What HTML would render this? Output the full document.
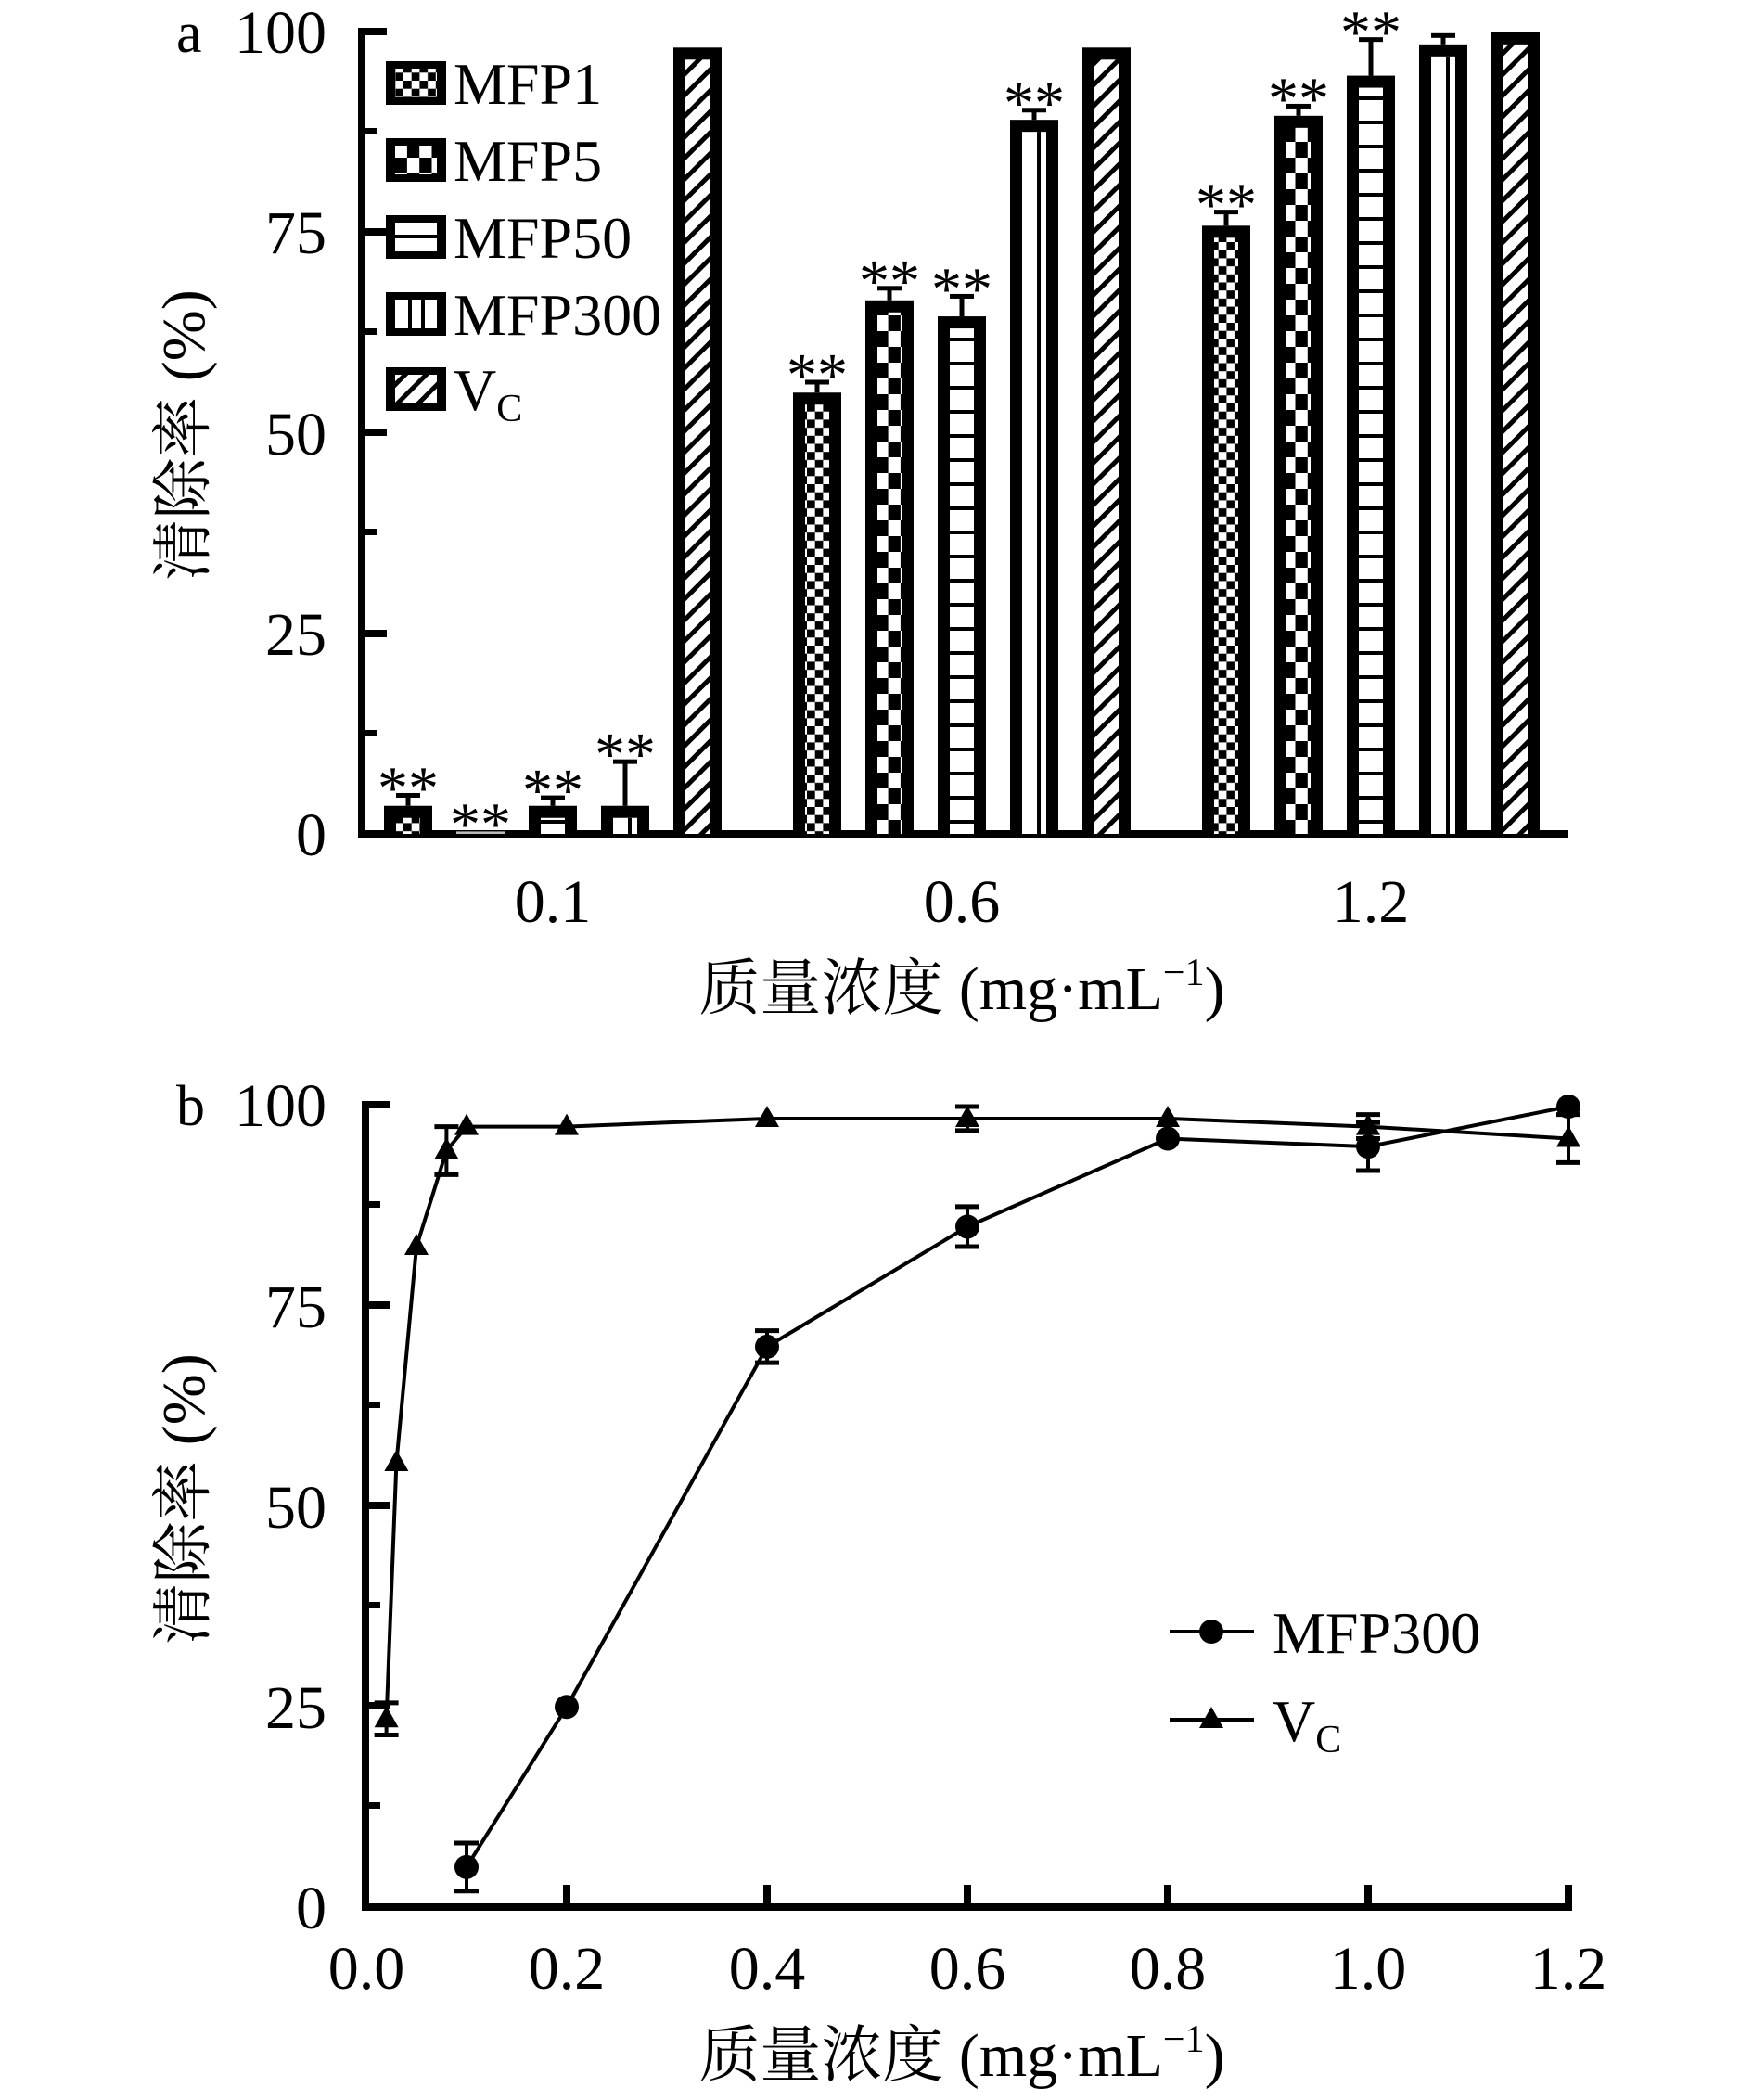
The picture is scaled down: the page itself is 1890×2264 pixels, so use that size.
<!DOCTYPE html>
<html><head><meta charset="utf-8"><style>
html,body{margin:0;padding:0;background:#fff;}
svg{display:block;}
text{font-family:"Liberation Serif","Noto Serif CJK SC","Noto Sans CJK SC",serif;fill:#000;}
</style></head><body>
<svg width="1890" height="2264" viewBox="0 0 1890 2264" xmlns="http://www.w3.org/2000/svg">
<defs>
<pattern id="p1" width="17.4" height="17.4" patternUnits="userSpaceOnUse">
<rect width="17.4" height="17.4" fill="#fff"/><rect width="8.7" height="8.7" fill="#000"/><rect x="8.7" y="8.7" width="8.7" height="8.7" fill="#000"/></pattern>
<pattern id="p5" width="26.6" height="34" patternUnits="userSpaceOnUse">
<rect width="26.6" height="34" fill="#fff"/><rect width="13.3" height="17" fill="#000"/><rect x="13.3" y="17" width="13.3" height="17" fill="#000"/></pattern>
<pattern id="p50" width="26" height="26" patternUnits="userSpaceOnUse">
<rect width="26" height="26" fill="#fff"/><rect y="0" width="26" height="4" fill="#000"/></pattern>
<pattern id="pv" width="16" height="16" patternUnits="userSpaceOnUse" patternTransform="rotate(-45)">
<rect width="16" height="16" fill="#fff"/><rect width="16" height="5" fill="#000"/></pattern>
</defs>

<!-- ===== Panel a ===== -->
<text x="190" y="56" font-size="62">a</text>
<g font-size="66" text-anchor="end">
<text x="352" y="922">0</text><text x="352" y="706">25</text><text x="352" y="490">50</text><text x="352" y="273">75</text><text x="352" y="57">100</text>
</g>
<rect x="386" y="30" width="8" height="873" fill="#000"/>
<rect x="386" y="895" width="1305" height="8" fill="#000"/>
<g fill="#000">
<rect x="394" y="30" width="23" height="8"/><rect x="394" y="246" width="23" height="8"/><rect x="394" y="462" width="23" height="8"/><rect x="394" y="679" width="23" height="8"/>
<rect x="394" y="138" width="12" height="7"/><rect x="394" y="354" width="12" height="7"/><rect x="394" y="570" width="12" height="7"/><rect x="394" y="787" width="12" height="7"/>
</g>

<!-- legend -->
<g>
<rect x="416" y="66" width="65" height="47" fill="#000"/><rect x="426" y="74" width="45" height="31" fill="url(#p1)"/>
<rect x="416" y="149" width="65" height="47" fill="#000"/><rect x="426" y="157" width="45" height="31" fill="url(#p5)"/>
<rect x="416" y="232" width="65" height="47" fill="#000"/><rect x="426" y="240" width="45" height="31" fill="#fff"/><rect x="426" y="253" width="45" height="4" fill="#000"/>
<rect x="416" y="315" width="65" height="47" fill="#000"/><rect x="426" y="323" width="45" height="31" fill="#fff"/><rect x="440" y="323" width="4" height="31" fill="#000"/><rect x="454" y="323" width="4" height="31" fill="#000"/>
<rect x="416" y="396" width="65" height="47" fill="#000"/><rect x="426" y="404" width="45" height="31" fill="url(#pv)"/>
</g>
<g font-size="64">
<text x="489" y="112">MFP1</text><text x="489" y="195">MFP5</text><text x="489" y="278">MFP50</text><text x="489" y="361">MFP300</text>
<text x="489" y="442">V<tspan font-size="42" dy="12">C</tspan></text>
</g>

<g id="bars"></g>
<script>
(function(){
var ns="http://www.w3.org/2000/svg",g=document.getElementById("bars");
function Y(v){return 899-8.65*v;}
function el(t,a){var e=document.createElementNS(ns,t);for(var k in a)e.setAttribute(k,a[k]);g.appendChild(e);return e;}
var centers=[[440,518,596,674,752],[881,959,1037,1115,1193],[1322,1400,1478,1556,1634]];
var vals=[[3.5,0.3,3.5,3.5,98],[55,66.5,64.5,89,98],[75.8,89.5,94.5,98.4,99.9]];
var errs=[[4.8,null,4.5,9,null],[56.3,68,67,90.2,null],[77.5,90.7,99,99.5,null]];
var stars=[[1,1,1,1,0],[1,1,1,1,0],[1,1,1,0,0]];
var fills=["url(#p1)","url(#p5)","url(#p50)","#fff","url(#pv)"];
for(var i=0;i<3;i++)for(var j=0;j<5;j++){
 var c=centers[i][j],v=vals[i][j],top=Y(v),x=c-26;
 if(v<1){el("rect",{x:x,y:top,width:52,height:899-top,fill:"#bbb"});}
 else{
 el("rect",{x:x,y:top,width:52,height:899-top,fill:"#000"});
 var ih=899-top-13; if(ih>0){
 el("rect",{x:x+13,y:top+13,width:26,height:ih,fill:fills[j]});
 if(j==3) el("rect",{x:x+29,y:top+13,width:4,height:ih,fill:"#000"});}
 }
 var e=errs[i][j],st=top;
 if(e!==null){var ey=Y(e);el("rect",{x:c-2.5,y:ey,width:5,height:top-ey,fill:"#000"});el("rect",{x:c-13,y:ey-2.5,width:26,height:5,fill:"#000"});st=ey;}
 if(stars[i][j]){var t=el("text",{x:c,y:st+14,"font-size":"66","text-anchor":"middle"});t.textContent="**";}
}
})();
</script>

<g font-size="66" text-anchor="middle">
<text x="596" y="994">0.1</text><text x="1037" y="994">0.6</text><text x="1478" y="994">1.2</text>
</g>
<text x="1037" y="1088" font-size="66" text-anchor="middle">质量浓度 (mg·mL<tspan font-size="42" dy="-26">−1</tspan><tspan dy="26">)</tspan></text>
<text transform="translate(220,469) rotate(-90)" font-size="66" text-anchor="middle">清除率 (%)</text>

<!-- ===== Panel b ===== -->
<text x="190" y="1213" font-size="62">b</text>
<g font-size="66" text-anchor="end">
<text x="352" y="2079">0</text><text x="352" y="1863">25</text><text x="352" y="1647">50</text><text x="352" y="1431">75</text><text x="352" y="1214">100</text>
</g>
<rect x="390" y="1187" width="8" height="873" fill="#000"/>
<rect x="390" y="2052" width="1305" height="8" fill="#000"/>
<g fill="#000">
<rect x="398" y="1187" width="23" height="8"/><rect x="398" y="1403" width="23" height="8"/><rect x="398" y="1619" width="23" height="8"/><rect x="398" y="1835" width="23" height="8"/>
<rect x="398" y="1295" width="12" height="7"/><rect x="398" y="1511" width="12" height="7"/><rect x="398" y="1727" width="12" height="7"/><rect x="398" y="1943" width="12" height="7"/>
<rect x="607" y="2032" width="8" height="22"/><rect x="823" y="2032" width="8" height="22"/><rect x="1039" y="2032" width="8" height="22"/><rect x="1255" y="2032" width="8" height="22"/><rect x="1471" y="2032" width="8" height="22"/><rect x="1687" y="2032" width="8" height="22"/>
</g>
<g font-size="66" text-anchor="middle">
<text x="395" y="2144">0.0</text><text x="611" y="2144">0.2</text><text x="827" y="2144">0.4</text><text x="1043" y="2144">0.6</text><text x="1259" y="2144">0.8</text><text x="1475" y="2144">1.0</text><text x="1691" y="2144">1.2</text>
</g>
<text x="1037" y="2238" font-size="66" text-anchor="middle">质量浓度 (mg·mL<tspan font-size="42" dy="-26">−1</tspan><tspan dy="26">)</tspan></text>
<text transform="translate(220,1616) rotate(-90)" font-size="66" text-anchor="middle">清除率 (%)</text>

<g id="lines"></g>
<script>
(function(){
var ns="http://www.w3.org/2000/svg",g=document.getElementById("lines");
function X(x){return 395+1080*x;}function Y(v){return 2056-8.63*v;}
function el(t,a){var e=document.createElementNS(ns,t);for(var k in a)e.setAttribute(k,a[k]);g.appendChild(e);return e;}
var vc=[[0.02,23.5,2],[0.03,55.5,0],[0.05,82.5,0],[0.08,94.5,3],[0.1,97.5,0],[0.2,97.5,0],[0.4,98.5,0],[0.6,98.5,1.5],[0.8,98.5,0],[1.0,97.5,1.5],[1.2,96,3]];
var mf=[[0.1,5,3],[0.2,25,0],[0.4,70,2],[0.6,85,2.5],[0.8,96,0],[1.0,95,3],[1.2,100,0]];
function series(d,tri){
 var p=d.map(function(a){return X(a[0])+","+Y(a[1]);}).join(" ");
 el("polyline",{points:p,fill:"none",stroke:"#000","stroke-width":"4"});
 d.forEach(function(a){var x=X(a[0]),y=Y(a[1]);
 if(a[2]){var y1=Y(a[1]+a[2]),y2=Y(a[1]-a[2]);
 el("line",{x1:x,y1:y1,x2:x,y2:y2,stroke:"#000","stroke-width":"4"});
 el("line",{x1:x-13,y1:y1,x2:x+13,y2:y1,stroke:"#000","stroke-width":"5"});
 el("line",{x1:x-13,y1:y2,x2:x+13,y2:y2,stroke:"#000","stroke-width":"5"});}
 if(tri)el("polygon",{points:(x-13)+","+(y+9)+" "+(x+13)+","+(y+9)+" "+x+","+(y-14),fill:"#000"});
 else el("circle",{cx:x,cy:y,r:13,fill:"#000"});
 });
}
series(mf,false);series(vc,true);
el("line",{x1:1261,y1:1759,x2:1352,y2:1759,stroke:"#000","stroke-width":"4"});
el("circle",{cx:1306,cy:1759,r:13,fill:"#000"});
el("line",{x1:1261,y1:1854,x2:1352,y2:1854,stroke:"#000","stroke-width":"4"});
el("polygon",{points:"1293,1863 1319,1863 1306,1840",fill:"#000"});
})();
</script>
<text x="1372" y="1782" font-size="64">MFP300</text>
<text x="1372" y="1877" font-size="64">V<tspan font-size="42" dy="12">C</tspan></text>
</svg>
</body></html>
